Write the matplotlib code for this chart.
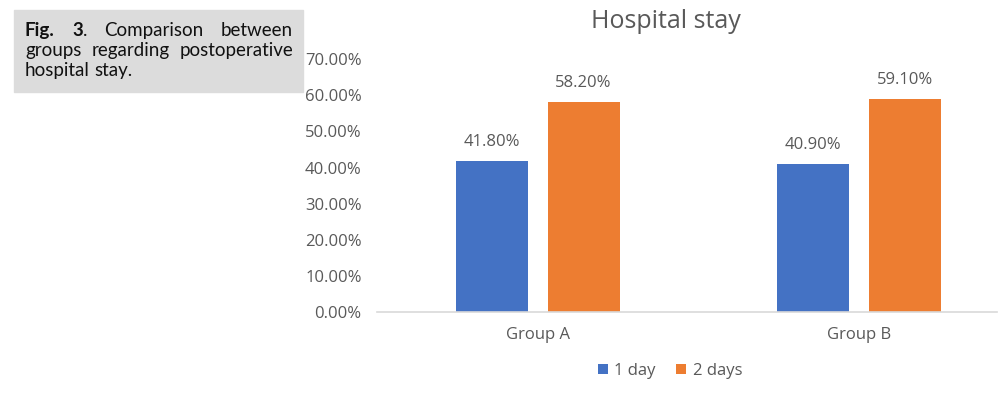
import matplotlib.pyplot as plt
import numpy as np
from matplotlib.patches import Rectangle

plt.rcParams['font.family'] = ['Open Sans', 'DejaVu Sans']

groups = ['Group A', 'Group B']
series = ['1 day', '2 days']
one_day = [0.418, 0.409]
two_days = [0.582, 0.591]
colors = ['#4472C4', '#ED7D31']
yticks = [0.0, 0.1, 0.2, 0.3, 0.4, 0.5, 0.6, 0.7]

W, H = 998, 397
fig = plt.figure(figsize=(W / 100, H / 100), dpi=100)
ax = fig.add_axes([377 / W, 1 - 312 / H, (997 - 377) / W, (312 - 59.3) / H])

x = np.arange(len(groups))
bw = 0.224
off = 0.143
grey = '#595959'
fs = 12
for vals, dx, col, name in [(one_day, -off, colors[0], series[0]), (two_days, off, colors[1], series[1])]:
    bars = ax.bar(x + dx, vals, width=bw, color=col, label=name)
    for b, v in zip(bars, vals):
        ax.annotate(f'{v * 100:.2f}%', (b.get_x() + b.get_width() / 2, v),
                    xytext=(0, 8), textcoords='offset points', ha='center', va='bottom',
                    fontsize=fs, color=grey)

ax.set_xlim(-0.50, 1.43)
ax.set_ylim(0, 0.7)
ax.set_yticks(yticks)
ax.set_yticklabels([f'{t * 100:.2f}%' for t in yticks])
ax.set_xticks(x)
ax.set_xticklabels(groups)
ax.tick_params(axis='both', length=0, labelsize=fs, colors=grey)
ax.tick_params(axis='y', pad=11)
ax.tick_params(axis='x', pad=11)
for s in ['top', 'right', 'left']:
    ax.spines[s].set_visible(False)
ax.spines['bottom'].set_color('#d9d9d9')
ax.spines['bottom'].set_linewidth(1.2)

fig.text(666 / W, 1 - 21 / H, 'Hospital stay', ha='center', va='center', fontsize=18, color=grey)

fig.legend(loc='center', bbox_to_anchor=(670 / W, 1 - 371 / H), ncol=2, frameon=False,
           fontsize=fs, labelcolor=grey, handlelength=0.6, handleheight=0.6,
           handletextpad=0.4, columnspacing=1.2)

# caption box
fig.patches.append(Rectangle((14 / W, 1 - 92 / H), (303 - 14) / W, 82 / H,
                             transform=fig.transFigure, color='#dcdcdc', zorder=0))

renderer = fig.canvas.get_renderer()
cap_size = 13.5
cap_font = ['Lato', 'DejaVu Sans']
left, right = 25, 293


def word_width(parts):
    w = 0
    for txt, wt in parts:
        t = fig.text(0, 0, txt, fontsize=cap_size, fontweight=wt, family=cap_font)
        w += t.get_window_extent(renderer).width
        t.remove()
    return w


def draw_line(words, y, justify=True):
    widths = [word_width(w) for w in words]
    if justify and len(words) > 1:
        gap = (right - left - sum(widths)) / (len(words) - 1)
    else:
        gap = word_width([(' ', 'normal')])
    xp = left
    for w, wd in zip(words, widths):
        xx = xp
        for txt, wt in w:
            t = fig.text(xx / W, 1 - y / H, txt, fontsize=cap_size, fontweight=wt,
                         family=cap_font, color='#111111', va='baseline', ha='left')
            xx += t.get_window_extent(renderer).width
        xp += wd + gap


draw_line([[('Fig.', 'bold')], [('3', 'bold'), ('.', 'normal')],
           [('Comparison', 'normal')], [('between', 'normal')]], 36)
draw_line([[('groups', 'normal')], [('regarding', 'normal')], [('postoperative', 'normal')]], 56)
draw_line([[('hospital', 'normal')], [('stay.', 'normal')]], 76, justify=False)

fig.savefig('out.png', dpi=100)
